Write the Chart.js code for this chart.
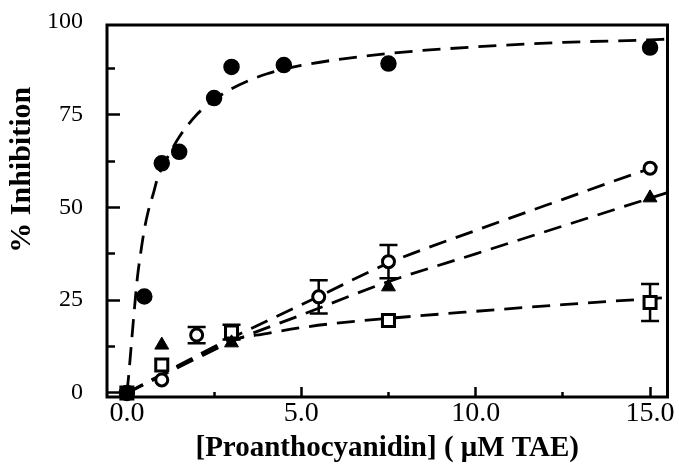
<!DOCTYPE html>
<html>
<head>
<meta charset="utf-8">
<script src="https://cdn.jsdelivr.net/npm/chart.js@4"></script>
<style>
  body { margin: 0; background: #fff; }
  canvas { display: block; }
</style>
</head>
<body>
<canvas id="graf" width="679" height="472"></canvas>
<script>
const xFilled = [0, 0.5, 1, 1.5, 2.5, 3, 4.5, 7.5, 15];
const yFilled = [0, 26, 61.9, 65, 79.5, 87.9, 88.4, 88.8, 93.1];

const xOpen = [0, 1, 2, 5.5, 7.5, 15];
const yOpen = [0, 3.5, 15.6, 25.9, 35.4, 60.6];
const errOpen = [0, 0, 2.2, 4.5, 4.5, 0];

const xTri = [0, 1, 3, 7.5, 15];
const yTri = [0, 12.9, 13.5, 28.6, 52.6];

const xSquare = [0, 1, 3, 7.5, 15];
const ySquare = [0, 7.5, 16.4, 19.5, 24.4];
const errSquare = [0, 0, 2, 0, 5];

// Dashed fitted curves
const fitFilledX = [0, 0.05, 0.1, 0.15, 0.2, 0.3, 0.4, 0.5, 0.6, 0.75, 0.9, 1, 1.5, 2, 2.5, 3, 4, 5, 7.5, 10, 12.5, 15, 15.5];
const fitFilledY = [0, 4.5, 10, 15.5, 21, 31, 38, 44, 48.5, 53.5, 58.5, 60.5, 69, 75, 79, 82, 86, 88.3, 91.5, 93.3, 94.5, 95.2, 95.4];
const fitOpenX = [0, 1, 2, 3, 5.5, 7.5, 10, 12.5, 15, 15.5];
const fitOpenY = [0, 5, 10, 14.8, 26, 35, 43.8, 52.2, 60.5, 62];
const fitTriX = [0, 1, 2, 3, 5, 7.5, 10, 12.5, 15, 15.5];
const fitTriY = [0, 4.7, 9.3, 13.8, 21, 30, 37.5, 45, 52.5, 54];
const fitSquareX = [0, 1, 2, 3, 4, 5, 6, 7.5, 10, 12.5, 15, 15.5];
const fitSquareY = [0, 4.7, 9.6, 14.2, 16, 17.6, 18.8, 20.1, 22, 23.8, 25.4, 25.7];

// Axis ticks
const xMajor = [0, 5, 10, 15];
const xMinor = [2.5, 7.5, 12.5];
const yMajor = [0, 25, 50, 75, 100];
const yMinor = [12.5, 37.5, 62.5, 87.5];

const X_MIN = -0.57, X_MAX = 15.5;
const Y_MIN = -1.1, Y_MAX = 99.2;
const SERIF = 'Liberation Serif, Times New Roman, serif';

function tocke(xs, ys) {
    return xs.map((v, i) => ({ x: v, y: ys[i] }));
}

function fitLinija(xs, ys) {
    return {
        data: tocke(xs, ys),
        showLine: true,
        borderColor: '#000',
        borderWidth: 2.8,
        borderDash: [18, 10],
        pointRadius: 0,
        cubicInterpolationMode: 'monotone',
        order: 2
    };
}

// fiksna velicina osi, bez dodatnog paddinga od labela
function fiksiraj(sirina, visina) {
    return s => {
        if (sirina !== null) s.width = sirina;
        if (visina !== null) s.height = visina;
        s.paddingLeft = 0; s.paddingRight = 0;
        s.paddingTop = 0; s.paddingBottom = 0;
    };
}

// error bars drawn via the scales, under the markers
const errorBars = {
    id: 'errorBars',
    beforeDatasetsDraw(chart) {
        const { ctx, scales: { x, y } } = chart;
        ctx.save();
        ctx.strokeStyle = '#000';
        ctx.lineWidth = 2.5;
        chart.data.datasets.forEach(ds => {
            if (!ds.errors) return;
            ds.data.forEach((p, i) => {
                const e = ds.errors[i];
                if (!e) return;
                const px = x.getPixelForValue(p.x);
                const top = y.getPixelForValue(p.y + e);
                const bot = y.getPixelForValue(p.y - e);
                ctx.beginPath();
                ctx.moveTo(px, top); ctx.lineTo(px, bot);
                ctx.moveTo(px - 9, top); ctx.lineTo(px + 9, top);
                ctx.moveTo(px - 9, bot); ctx.lineTo(px + 9, bot);
                ctx.stroke();
            });
        });
        ctx.restore();
    }
};

// box around the plot area
const okvir = {
    id: 'okvir',
    beforeDatasetsDraw(chart) {
        const { ctx, chartArea: a } = chart;
        ctx.save();
        ctx.strokeStyle = '#000';
        ctx.lineWidth = 3;
        ctx.strokeRect(a.left, a.top, a.right - a.left, a.bottom - a.top);
        ctx.restore();
    }
};

const ctx = document.getElementById('graf').getContext('2d');
new Chart(ctx, {
    type: 'scatter',
    data: {
        datasets: [
            {
                data: tocke(xFilled, yFilled),
                pointStyle: 'circle', pointRadius: 7.5, pointBorderWidth: 1.5,
                backgroundColor: '#000', borderColor: '#000',
                clip: false, order: 1
            },
            {
                data: tocke(xOpen, yOpen), errors: errOpen,
                pointStyle: 'circle', pointRadius: 6, pointBorderWidth: 3,
                backgroundColor: '#fff', borderColor: '#000',
                clip: false, order: 1
            },
            {
                data: tocke(xTri, yTri),
                pointStyle: 'triangle', pointRadius: 8, pointBorderWidth: 1,
                backgroundColor: '#000', borderColor: '#000',
                clip: false, order: 1
            },
            {
                data: tocke(xSquare, ySquare), errors: errSquare,
                pointStyle: 'rect', pointRadius: 8.5, pointBorderWidth: 3,
                backgroundColor: '#fff', borderColor: '#000',
                clip: false, order: 1
            },
            fitLinija(fitFilledX, fitFilledY),
            fitLinija(fitOpenX, fitOpenY),
            fitLinija(fitTriX, fitTriY),
            fitLinija(fitSquareX, fitSquareY)
        ]
    },
    options: {
        responsive: false,
        animation: false,
        layout: { padding: { left: 0, right: 7, top: 25, bottom: 0 } },
        plugins: {
            legend: { display: false },
            tooltip: { enabled: false }
        },
        scales: {
            x: {
                type: 'linear', position: 'bottom', weight: 1,
                min: X_MIN, max: X_MAX,
                afterBuildTicks: s => { s.ticks = xMajor.map(v => ({ value: v })); },
                afterFit: fiksiraj(null, 75),
                border: { display: false },
                grid: { drawOnChartArea: false, tickLength: -10, tickWidth: 2.5, tickColor: '#000' },
                ticks: {
                    padding: 10, color: '#000', autoSkip: false, maxRotation: 0,
                    font: { family: SERIF, size: 28 },
                    callback: v => v.toFixed(1)
                },
                title: {
                    display: true,
                    text: '[Proanthocyanidin] ( \u03bcM TAE)',
                    color: '#000',
                    font: { family: SERIF, size: 29, weight: 'bold' },
                    padding: { top: 0, bottom: 6 }
                }
            },
            x2: {
                type: 'linear', position: 'bottom', weight: 0,
                min: X_MIN, max: X_MAX,
                afterBuildTicks: s => { s.ticks = xMinor.map(v => ({ value: v })); },
                afterFit: fiksiraj(null, 0),
                border: { display: false },
                grid: { drawOnChartArea: false, tickLength: -5, tickWidth: 2.5, tickColor: '#000' },
                ticks: { display: false }
            },
            y: {
                type: 'linear', position: 'left', weight: 1,
                min: Y_MIN, max: Y_MAX,
                afterBuildTicks: s => { s.ticks = yMajor.map(v => ({ value: v })); },
                afterFit: fiksiraj(107, null),
                border: { display: false },
                grid: {
                    drawOnChartArea: false, tickLength: -13, tickWidth: 2.5,
                    tickColor: c => (c.tick && c.tick.value > Y_MAX) ? 'rgba(0,0,0,0)' : '#000'
                },
                ticks: {
                    padding: 37, color: '#000', autoSkip: false,
                    font: { family: SERIF, size: 24 },
                    callback: v => String(v)
                },
                title: {
                    display: true,
                    text: '           % Inhibition',
                    color: '#000',
                    font: { family: SERIF, size: 30, weight: 'bold' },
                    padding: { top: 4, bottom: 0 }
                }
            },
            y2: {
                type: 'linear', position: 'left', weight: 0,
                min: Y_MIN, max: Y_MAX,
                afterBuildTicks: s => { s.ticks = yMinor.map(v => ({ value: v })); },
                afterFit: fiksiraj(0, null),
                border: { display: false },
                grid: { drawOnChartArea: false, tickLength: -8, tickWidth: 2.5, tickColor: '#000' },
                ticks: { display: false }
            }
        }
    },
    plugins: [errorBars, okvir]
});
</script>
</body>
</html>
